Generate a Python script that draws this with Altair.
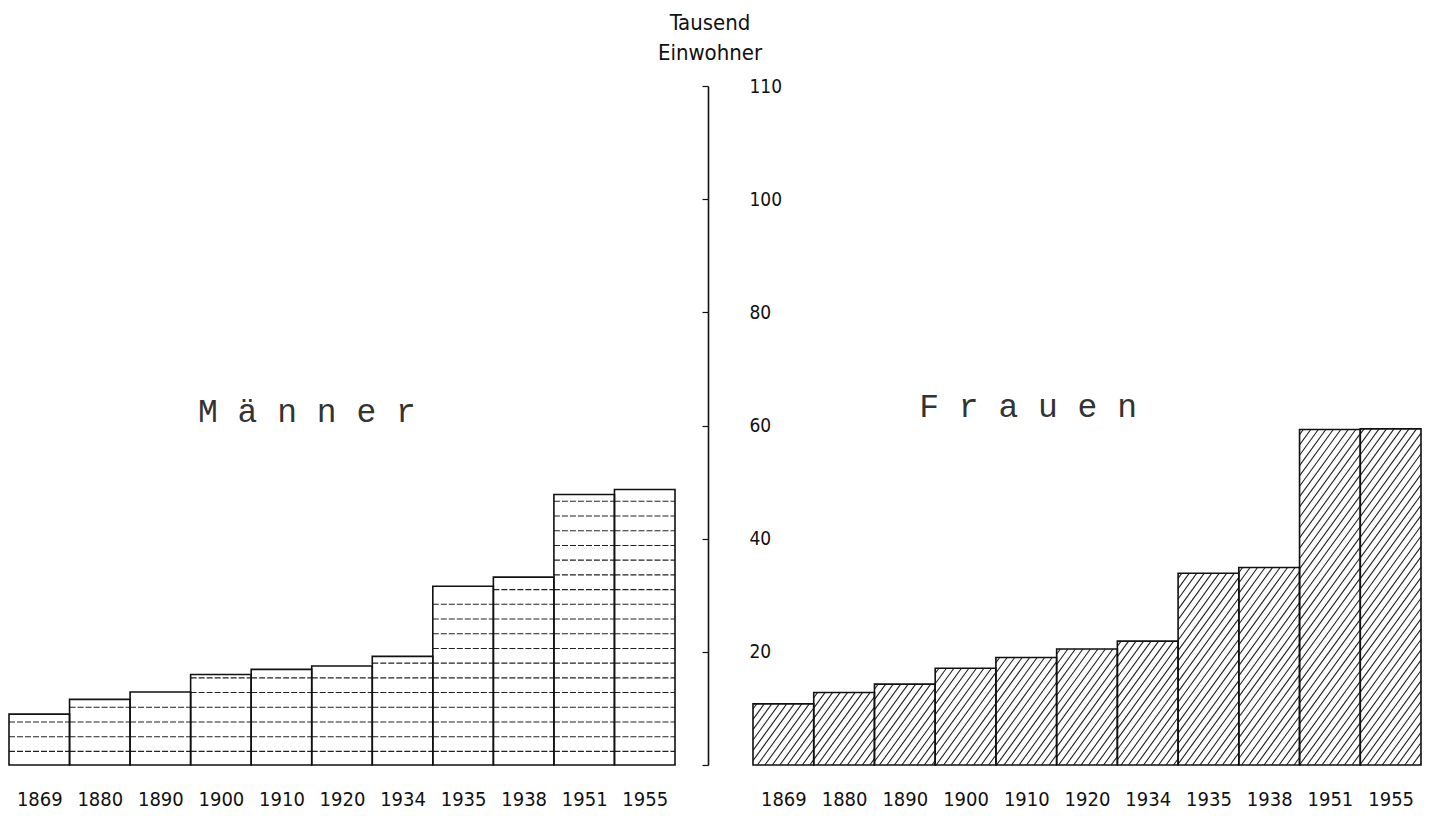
import json
import math
import altair as alt
import pandas as pd

# ---------------- data ----------------
years = ["1869", "1880", "1890", "1900", "1910", "1920", "1934", "1935", "1938", "1951", "1955"]
maenner = [9.0, 11.6, 12.9, 16.0, 16.9, 17.5, 19.2, 31.6, 33.2, 47.8, 48.7]
frauen = [10.8, 12.8, 14.3, 17.1, 19.0, 20.5, 21.9, 33.9, 34.9, 59.3, 59.4]
y_ticks = [0, 20, 40, 60, 80, 100, 120]
y_tick_labels = ["", "20", "40", "60", "80", "100", "110"]
y_title = ["Tausend", "Einwohner"]
panel_labels = ["M ä n n e r", "F r a u e n"]
panel_label_x = [4.92, 4.53]
panel_label_y = [62.4, 63.3]

# ---------------- layout / style ----------------
W_L, W_R, H = 666, 668, 679
Y_MAX = 120
N = len(years)
FONT_NUM = "'Liberation Sans Narrow', 'DejaVu Sans Condensed', 'Roboto Condensed', sans-serif"
FONT_TYPE = "'Liberation Mono', 'DejaVu Sans Mono', monospace"
INK = "#111111"

x_label_expr = f"{json.dumps(years)}[floor(datum.value)]"
x_tick_vals = [i + 0.5 for i in range(N)]
y_label_expr = f"{json.dumps(y_tick_labels)}[indexof({json.dumps(y_ticks)}, datum.value)]"

x_scale = alt.Scale(domain=[0, N], nice=False, zero=False)
y_scale = alt.Scale(domain=[0, Y_MAX], nice=False, zero=True)

x_axis = alt.Axis(values=x_tick_vals, labelExpr=x_label_expr, title=None, domain=False,
                  ticks=False, tickSize=0, grid=False, labelPadding=24,
                  labelFont=FONT_NUM, labelFontSize=20, labelColor=INK, labelAngle=0)
y_axis_right = alt.Axis(values=y_ticks, labelExpr=y_label_expr, title=None, orient="left",
                        offset=45, grid=False, domainColor=INK, domainWidth=1.6,
                        tickColor=INK, tickSize=6, tickWidth=1.2, labelAlign="left",
                        labelPadding=-47, labelFont=FONT_NUM, labelFontSize=19,
                        labelColor=INK, labelBaseline="middle", labelFlush=False)


def bars_df(values):
    return pd.DataFrame({"year": years, "x0": list(range(N)),
                         "x1": [i + 1 for i in range(N)], "value": values})


def horizontal_hatch(values, start=2.4, step=2.6):
    rows = []
    for i, v in enumerate(values):
        lvl = start
        while lvl < v - 0.6:
            rows.append({"x0": i, "x1": i + 1, "y": lvl})
            lvl += step
    return pd.DataFrame(rows)


def diagonal_hatch(values, width, angle_deg=54, gap_px=7.5):
    bw = width / N              # px per bar
    py = H / Y_MAX              # px per value unit
    t = math.tan(math.radians(angle_deg))
    rows = []
    for i, v in enumerate(values):
        hpx = v * py
        c = -hpx / t + gap_px / 2
        while c < bw:
            xs = max(0.0, c)
            xe = min(bw, c + hpx / t)
            if xe > xs:
                rows.append({"xa": i + xs / bw, "xb": i + xe / bw,
                             "ya": t * (xs - c) / py, "yb": t * (xe - c) / py})
            c += gap_px
    return pd.DataFrame(rows)


def panel(values, hatch_layer, width, y_axis, label_idx):
    base = alt.Chart(bars_df(values))
    xenc = alt.X("x0:Q", scale=x_scale, axis=x_axis)
    yenc = alt.Y("value:Q", scale=y_scale, axis=y_axis)
    fill = base.mark_rect(fill="white", stroke=None).encode(
        x=xenc, x2="x1:Q", y=yenc, y2=alt.datum(0))
    outline = base.mark_rect(fill="white", fillOpacity=0, stroke=INK, strokeWidth=1.6).encode(
        x=xenc, x2="x1:Q", y=yenc, y2=alt.datum(0))
    lab = alt.Chart(pd.DataFrame({"t": [panel_labels[label_idx]],
                                  "x": [panel_label_x[label_idx]],
                                  "y": [panel_label_y[label_idx]]})).mark_text(
        font=FONT_TYPE, fontSize=33, color="#333333", align="center", baseline="middle"
    ).encode(x=alt.X("x:Q", scale=x_scale, axis=x_axis),
             y=alt.Y("y:Q", scale=y_scale, axis=y_axis), text="t:N")
    return alt.layer(fill, hatch_layer, outline, lab).properties(width=width, height=H)


# Männer: horizontal line hatch
mh = horizontal_hatch(maenner)
m_hatch = alt.Chart(mh).mark_rule(color="#222222", strokeWidth=1.1, strokeDash=[6, 2]).encode(
    x=alt.X("x0:Q", scale=x_scale, axis=x_axis), x2="x1:Q",
    y=alt.Y("y:Q", scale=y_scale, axis=None))
left = panel(maenner, m_hatch, W_L, None, 0)

# Frauen: diagonal hatch
fh = diagonal_hatch(frauen, W_R)
f_hatch = alt.Chart(fh).mark_rule(color="#222222", strokeWidth=1.1).encode(
    x=alt.X("xa:Q", scale=x_scale, axis=x_axis), x2="xb:Q",
    y=alt.Y("ya:Q", scale=y_scale, axis=y_axis_right), y2="yb:Q")
right = panel(frauen, f_hatch, W_R, y_axis_right, 1)

chart = alt.HConcatChart(
    hconcat=[left, right], spacing=78, bounds="flush"
).properties(
    title=alt.TitleParams(text=y_title, anchor="middle", font=FONT_NUM, fontSize=22,
                          fontWeight="normal", lineHeight=30, dx=-5, offset=12, color=INK),
    padding={"left": 0, "top": 4, "right": 0, "bottom": 0},
    background="white",
).configure_view(stroke=None)

chart.save("out.html", embed_options={"renderer": "svg", "actions": False})
